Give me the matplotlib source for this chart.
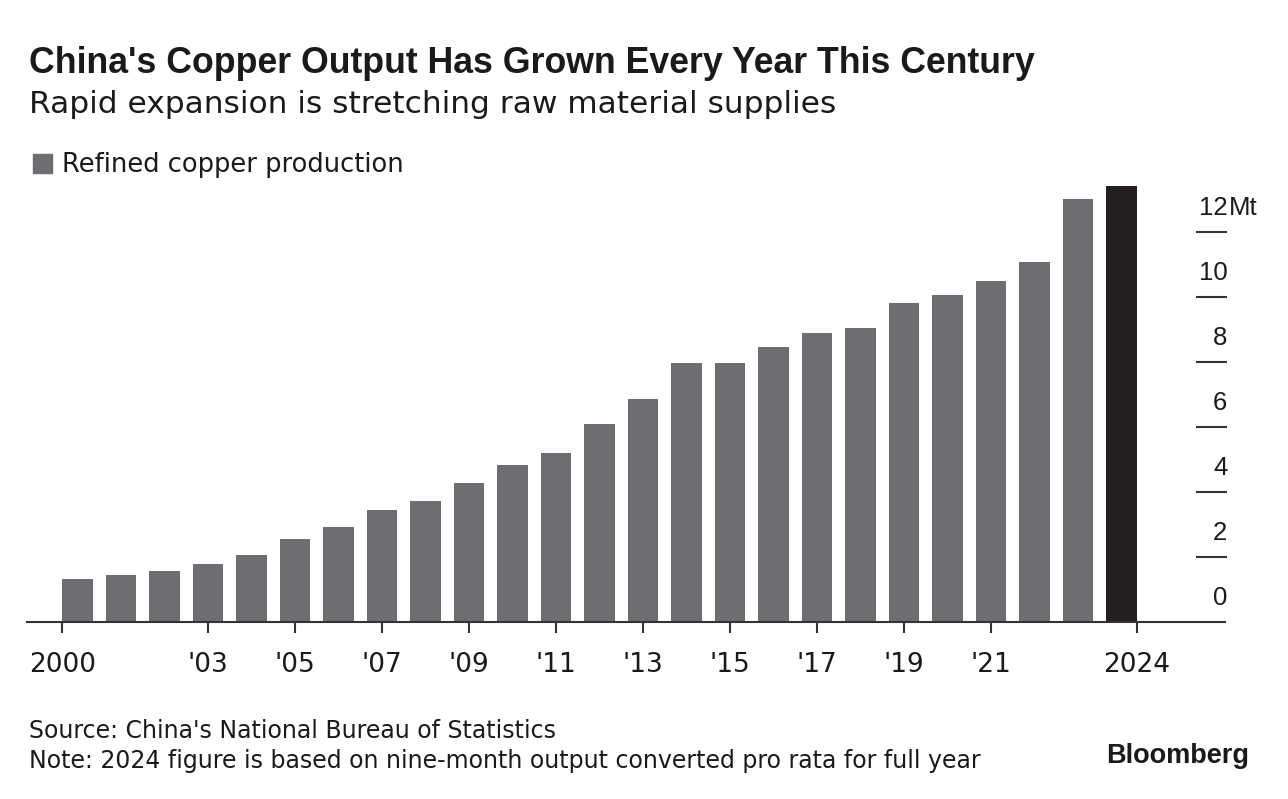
import matplotlib.pyplot as plt
import matplotlib.transforms as mtransforms
from matplotlib.patches import Rectangle

# Refined copper production in China, million tonnes (2024 is pro rata from nine months)
years = list(range(2000, 2025))
output_mt = [1.32, 1.43, 1.56, 1.77, 2.04, 2.54, 2.92, 3.44, 3.70, 4.26,
             4.82, 5.19, 6.07, 6.84, 7.97, 7.97, 8.44, 8.89, 9.04, 9.80,
             10.04, 10.49, 11.08, 13.00, 13.40]
xtick_pos = [1999.65, 2003, 2005, 2007, 2009, 2011, 2013, 2015, 2017, 2019, 2021, 2024.35]
xtick_labels = ["2000", "'03", "'05", "'07", "'09", "'11", "'13", "'15", "'17", "'19", "'21", "2024"]
ytick_vals = [0, 2, 4, 6, 8, 10, 12]

title = "China's Copper Output Has Grown Every Year This Century"
subtitle = "Rapid expansion is stretching raw material supplies"
legend_label = "Refined copper production"
source = "Source: China's National Bureau of Statistics"
note = "Note: 2024 figure is based on nine-month output converted pro rata for full year"

W, H = 1288, 799
GREY = "#6d6e71"
BLACK = "#231f20"
TXT = "#1a1a1a"
WIDE = ["DejaVu Sans"]          # wider face for the running text
NARROW = ["Liberation Sans", "DejaVu Sans"]

plt.rcParams["font.family"] = NARROW

fig = plt.figure(figsize=(W / 100, H / 100), dpi=100)
fig.patch.set_facecolor("white")


def fx(px):
    return px / W


def fy(py):
    return 1 - py / H


# axes placed in pixel terms: baseline at y=621.7, 1 Mt = 32.5 px
ax_left, ax_right, ax_top, ax_bot = 27, 1225, 180, 621.7
ax = fig.add_axes([fx(ax_left), fy(ax_bot), fx(ax_right - ax_left), (ax_bot - ax_top) / H])
ax.set_xlim(1998.84, 2026.38)
ax.set_ylim(0, (ax_bot - ax_top) / 32.5)

colors = [GREY] * (len(years) - 1) + [BLACK]
ax.bar(years, output_mt, width=0.70, color=colors, zorder=2)

for side in ["top", "right", "left"]:
    ax.spines[side].set_visible(False)
ax.spines["bottom"].set_color("#333333")
ax.spines["bottom"].set_linewidth(1.5)
ax.spines["bottom"].set_zorder(3)

ax.set_xticks(xtick_pos)
ax.set_xticklabels(xtick_labels, fontsize=19, color=TXT, family=WIDE)
ax.tick_params(axis="x", length=8, width=1.5, color="#333333", pad=14)
ax.set_yticks([])

# right-hand value labels sit above short tick lines
ytrans = ax.get_yaxis_transform()
lab_trans = mtransforms.offset_copy(ytrans, fig=fig, x=0, y=12, units="points")
for v in ytick_vals:
    if v > 0:
        ax.plot([0.9758, 1.0017], [v, v], transform=ytrans, color="#333333",
                lw=1.5, clip_on=False, solid_capstyle="butt")
    ax.text(1.002, v, str(v), transform=lab_trans, ha="right", va="baseline",
            fontsize=18.5, color=TXT)
ax.text(1.0035, ytick_vals[-1], "Mt", transform=lab_trans, ha="left", va="baseline",
        fontsize=18.5, color=TXT)

# titles and legend
fig.text(fx(29), fy(73.3), title, fontsize=25.7, fontweight="bold", color=TXT, va="baseline")
fig.text(fx(29), fy(113.3), subtitle, fontsize=22.5, color=TXT, va="baseline", family=WIDE)
fig.patches.append(Rectangle((fx(32.7), fy(172.7)), fx(19), 18.7 / H,
                             transform=fig.transFigure, color=GREY))
fig.text(fx(62), fy(171.7), legend_label, fontsize=18.5, color=TXT, va="baseline", family=WIDE)

# footer
fig.text(fx(29), fy(738.3), source, fontsize=17, color=TXT, va="baseline", family=WIDE)
fig.text(fx(29), fy(768.3), note, fontsize=17, color=TXT, va="baseline", family=WIDE)
fig.text(fx(1249), fy(763), "Bloomberg", fontsize=19.5, fontweight="bold", color=TXT,
         ha="right", va="baseline")

fig.savefig("out.png", dpi=100, facecolor="white")
